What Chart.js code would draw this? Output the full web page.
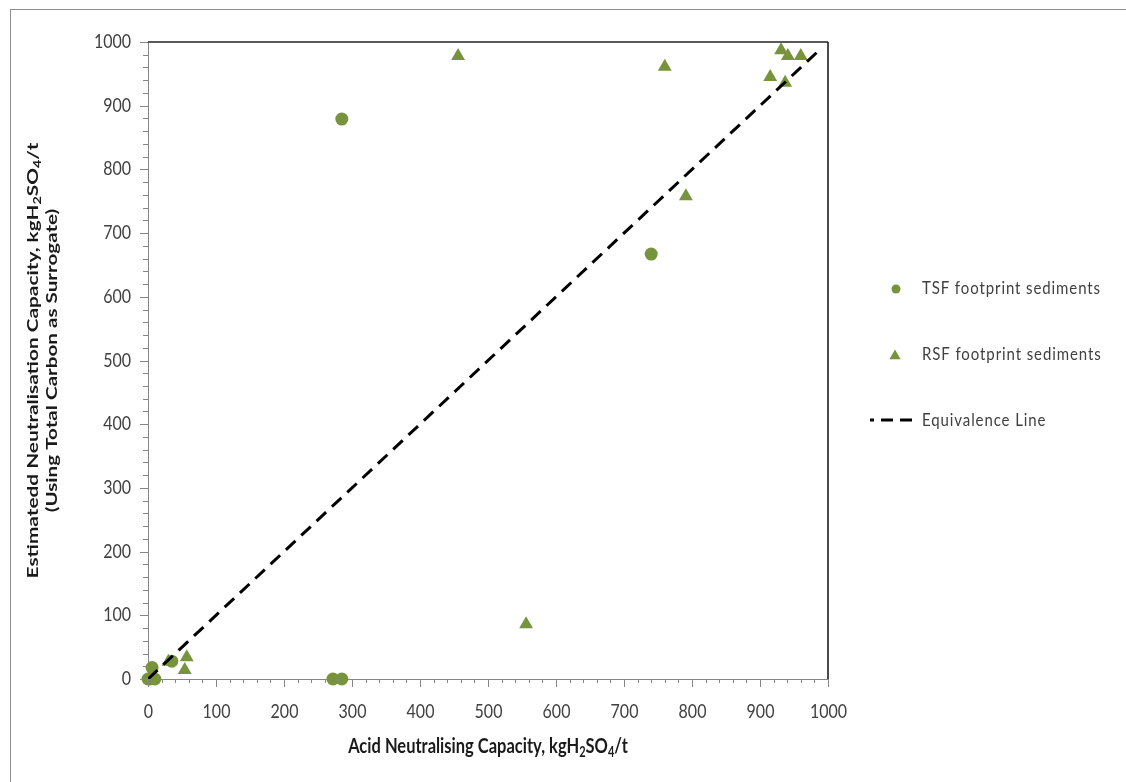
<!DOCTYPE html>
<html>
<head>
<meta charset="utf-8">
<script src="https://cdn.jsdelivr.net/npm/chart.js@4.4.1/dist/chart.umd.min.js"></script>
<style>
  html, body { margin: 0; padding: 0; background: #fff; }
  #wrap { position: relative; width: 1126px; height: 782px; overflow: hidden; }
  #frame { position: absolute; left: 10px; top: 9px; right: -2px; bottom: -2px;
           border-left: 1px solid #8e8e8e; border-top: 1px solid #8e8e8e; pointer-events: none; }
</style>
</head>
<body>
<div id="wrap">
  <canvas id="chart" width="1126" height="782"></canvas>
  <div id="frame"></div>
</div>
<script>
// Data
const tsfX = [0, 3, 10, 6, 35, 272, 285, 285, 740];
const tsfY = [0, 0, 0, 18, 28, 0, 0, 879, 667];

const rsfX = [30, 54, 57, 456, 556, 760, 791, 915, 931, 937, 941, 960];
const rsfY = [27, 14, 34, 978, 86, 961, 758, 945, 987, 936, 978, 978];

const equivX = [0, 990];
const equivY = [0, 990];

const tickLabels = [0, 100, 200, 300, 400, 500, 600, 700, 800, 900, 1000];

const seriesNames = ['TSF footprint sediments', 'RSF footprint sediments', 'Equivalence Line'];

const GREEN = '#77933c';
const FONT = 'Lato, "Open Sans", sans-serif';

function toPoints(xs, ys) {
    return xs.map((x, i) => ({ x: x, y: ys[i] }));
}

// Text with optional subscript parts; the reference text looks stretched, so allow scaling
function drawText(ctx, parts, x, y, o) {
    ctx.save();
    ctx.translate(x, y);
    if (o.rotate) ctx.rotate(o.rotate);
    ctx.scale(o.sx || 1, o.sy || 1);
    ctx.letterSpacing = (o.spacing || 0) + 'px';
    ctx.fillStyle = o.color;
    ctx.textAlign = 'left';
    ctx.textBaseline = 'middle';
    const fontFor = sub => (o.bold ? 'bold ' : '') + (sub ? Math.round(o.size * 0.68) : o.size) + 'px ' + FONT;
    let total = 0;
    parts.forEach(p => { ctx.font = fontFor(p[1]); total += ctx.measureText(p[0]).width; });
    let cx = o.align === 'left' ? 0 : o.align === 'right' ? -total : -total / 2;
    parts.forEach(p => {
        ctx.font = fontFor(p[1]);
        ctx.fillText(p[0], cx, p[1] ? o.size * 0.3 : 0);
        cx += ctx.measureText(p[0]).width;
    });
    ctx.restore();
}

function triangle(ctx, x, y, r) {
    ctx.beginPath();
    ctx.moveTo(x, y - r);
    ctx.lineTo(x + r * 0.866, y + r * 0.5);
    ctx.lineTo(x - r * 0.866, y + r * 0.5);
    ctx.closePath();
    ctx.fill();
}

const unitParts = [['kgH', false], ['2', true], ['SO', false], ['4', true], ['/t', false]];

// Tick marks and labels, plot border, axis titles and legend
const decorations = {
    id: 'decorations',
    afterDraw(chart) {
        const ctx = chart.ctx;
        const area = chart.chartArea;
        const xs = chart.scales.x, ys = chart.scales.y;
        ctx.save();

        // tick marks + labels
        ctx.strokeStyle = '#868686';
        ctx.lineWidth = 1;
        const lab = { size: 16, color: '#404040', sy: 1.15 };
        xs.ticks.forEach(t => {
            const px = Math.round(xs.getPixelForValue(t.value)) + 0.5;
            const major = tickLabels.includes(t.value);
            ctx.beginPath();
            ctx.moveTo(px, area.bottom);
            ctx.lineTo(px, area.bottom + (major ? 8 : 4));
            ctx.stroke();
            if (major) drawText(ctx, [[String(t.value), false]], px, area.bottom + 33, Object.assign({ align: 'center' }, lab));
        });
        ys.ticks.forEach(t => {
            const py = Math.round(ys.getPixelForValue(t.value)) + 0.5;
            const major = tickLabels.includes(t.value);
            ctx.beginPath();
            ctx.moveTo(area.left, py);
            ctx.lineTo(area.left - (major ? 8 : 5), py);
            ctx.stroke();
            if (major) drawText(ctx, [[String(t.value), false]], area.left - 17, py, Object.assign({ align: 'right' }, lab));
        });

        // plot area border top / right
        ctx.strokeStyle = '#595959';
        ctx.lineWidth = 2;
        ctx.beginPath();
        ctx.moveTo(area.left, area.top);
        ctx.lineTo(area.right, area.top);
        ctx.stroke();
        ctx.strokeStyle = '#111';
        ctx.lineWidth = 1.5;
        ctx.beginPath();
        ctx.moveTo(area.right, area.top);
        ctx.lineTo(area.right, area.bottom);
        ctx.stroke();

        // axis titles
        const midY = (area.top + area.bottom) / 2;
        drawText(ctx, [['Acid Neutralising Capacity, ', false]].concat(unitParts),
            (area.left + area.right) / 2, area.bottom + 67,
            { size: 16.5, bold: true, color: '#1a1a1a', sy: 1.3 });
        drawText(ctx, [['Estimatedd Neutralisation Capacity, ', false]].concat(unitParts),
            area.left - 115, midY,
            { size: 16, bold: true, color: '#1a1a1a', rotate: -Math.PI / 2, sx: 1.3 });
        drawText(ctx, [['(Using Total Carbon as Surrogate)', false]],
            area.left - 96, midY,
            { size: 16, bold: true, color: '#1a1a1a', rotate: -Math.PI / 2, sx: 1.29 });

        // legend
        const lx = area.right + 68, tx = area.right + 94;
        const rows = [area.top + 246, area.top + 312, area.top + 378];
        ctx.fillStyle = GREEN;
        ctx.beginPath();
        ctx.arc(lx, rows[0] + 1, 4.5, 0, Math.PI * 2);
        ctx.fill();
        triangle(ctx, lx - 1, rows[1] + 2, 6.5);

        ctx.strokeStyle = '#000';
        ctx.lineWidth = 3;
        ctx.setLineDash([12, 7]);
        ctx.lineDashOffset = 8;
        ctx.beginPath();
        ctx.moveTo(area.right + 42, rows[2]);
        ctx.lineTo(area.right + 85, rows[2]);
        ctx.stroke();
        ctx.setLineDash([]);

        seriesNames.forEach((name, i) => drawText(ctx, [[name, false]], tx, rows[i],
            { size: 15, color: '#404040', align: 'left', spacing: 0.9, sy: 1.2 }));

        ctx.restore();
    }
};

new Chart(document.getElementById('chart'), {
    type: 'scatter',
    data: {
        datasets: [
            {
                label: seriesNames[0],
                data: toPoints(tsfX, tsfY),
                pointStyle: 'circle',
                pointRadius: 6.5,
                backgroundColor: GREEN,
                borderColor: GREEN,
                borderWidth: 0,
                clip: false,
                order: 2
            },
            {
                label: seriesNames[1],
                data: toPoints(rsfX, rsfY),
                pointStyle: 'triangle',
                pointRadius: 8,
                backgroundColor: GREEN,
                borderColor: GREEN,
                borderWidth: 0,
                clip: false,
                order: 3
            },
            {
                label: seriesNames[2],
                type: 'line',
                data: toPoints(equivX, equivY),
                borderColor: '#000',
                borderWidth: 3,
                borderDash: [13, 8],
                pointRadius: 0,
                fill: false,
                order: 1
            }
        ]
    },
    options: {
        responsive: false,
        animation: false,
        layout: { padding: { top: 42, right: 298, left: 0, bottom: 0 } },
        plugins: {
            legend: { display: false },
            tooltip: { enabled: false }
        },
        scales: {
            x: {
                type: 'linear',
                min: 0, max: 1000,
                grid: { display: false, drawTicks: false },
                border: { color: '#868686', width: 1 },
                ticks: { display: false, stepSize: 20, autoSkip: false },
                afterFit: s => { s.height = 103; }
            },
            y: {
                type: 'linear',
                min: 0, max: 1000,
                grid: { display: false, drawTicks: false },
                border: { color: '#868686', width: 1 },
                ticks: { display: false, stepSize: 20, autoSkip: false },
                afterFit: s => { s.width = 148; }
            }
        }
    },
    plugins: [decorations]
});
</script>
</body>
</html>
